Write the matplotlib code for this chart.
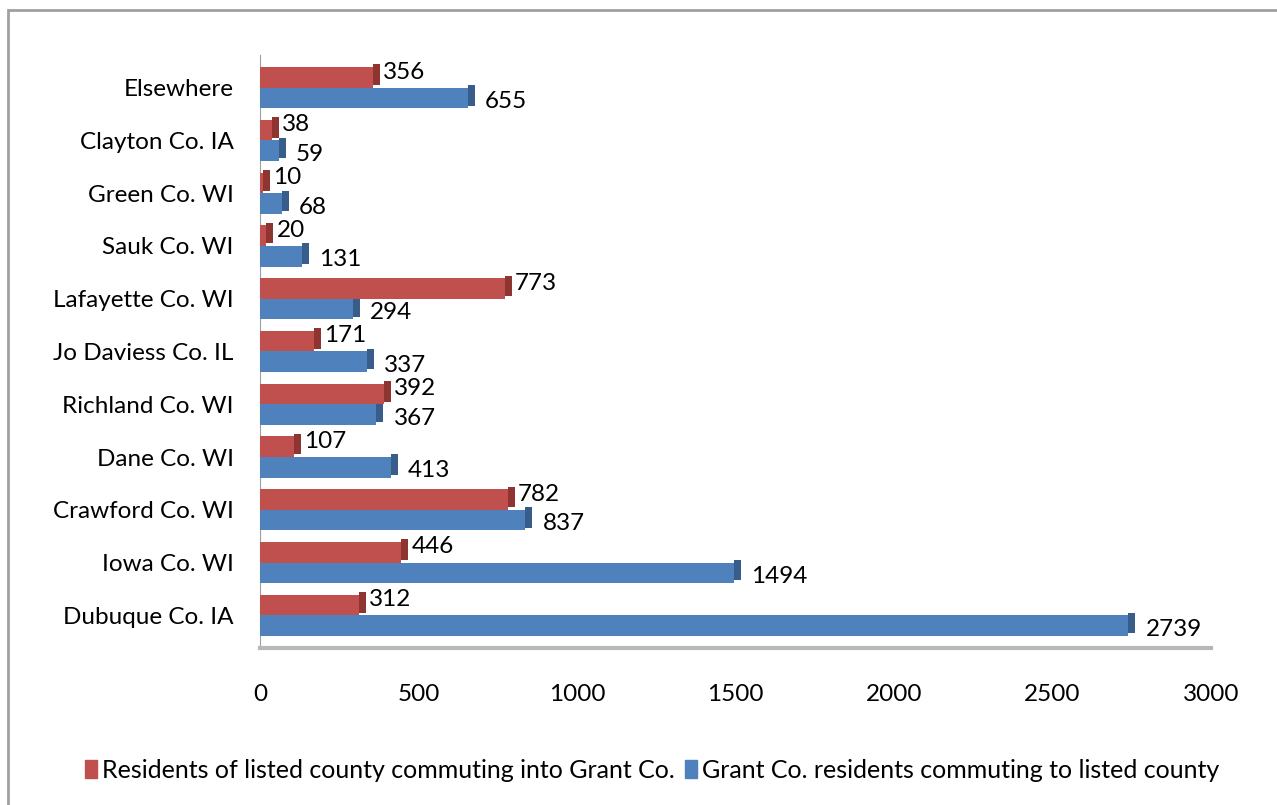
import matplotlib.pyplot as plt
from matplotlib.patches import Rectangle
import numpy as np

# Datos del grafico (de abajo hacia arriba)
counties = ['Dubuque Co. IA', 'Iowa Co. WI', 'Crawford Co. WI', 'Dane Co. WI',
            'Richland Co. WI', 'Jo Daviess Co. IL', 'Lafayette Co. WI',
            'Sauk Co. WI', 'Green Co. WI', 'Clayton Co. IA', 'Elsewhere']
into_grant = [312, 446, 782, 107, 392, 171, 773, 20, 10, 38, 356]
from_grant = [2739, 1494, 837, 413, 367, 337, 294, 131, 68, 59, 655]
x_ticks = [0, 500, 1000, 1500, 2000, 2500, 3000]

red = '#C0504D'
red_dark = '#8E3532'
blue = '#4F81BD'
blue_dark = '#385D8A'

plt.rcParams['font.family'] = ['Lato', 'DejaVu Sans']
fs = 17.5

fig = plt.figure(figsize=(12.77, 8.05), dpi=100)
ax = fig.add_axes([260 / 1277, 1 - 648 / 805, (1211 - 260) / 1277, (648 - 55) / 805])

# borde exterior
fig.patches.append(Rectangle((8 / 1277, -0.1), 1.2, 1 - 10 / 805 + 0.1, transform=fig.transFigure,
                             fill=False, edgecolor='#A0A0A0', linewidth=2))

y = np.arange(len(counties))
h = 0.39
cap = 22
ax.barh(y + h / 2, into_grant, height=h, color=red, zorder=3)
ax.barh(y - h / 2, from_grant, height=h, color=blue, zorder=3)
# cara lateral (efecto 3D)
ax.barh(y + h / 2 + 0.05, [cap] * len(y), left=into_grant, height=h, color=red_dark, zorder=2)
ax.barh(y - h / 2 + 0.05, [cap] * len(y), left=from_grant, height=h, color=blue_dark, zorder=2)

for yi, v in zip(y, into_grant):
    ax.text(v + cap + 10, yi + h / 2 + 0.1, str(v), fontsize=fs, va='center', ha='left', zorder=5)
for yi, v in zip(y, from_grant):
    ax.text(v + cap + 32, yi - h / 2 - 0.07, str(v), fontsize=fs, va='center', ha='left', zorder=5)

ax.set_xlim(0, 3000)
ax.set_ylim(-0.62, len(counties) - 0.38)
ax.set_yticks(y)
ax.set_yticklabels(counties, fontsize=fs)
ax.set_xticks(x_ticks)
ax.set_xticklabels([str(t) for t in x_ticks], fontsize=fs)
ax.tick_params(length=0, axis='y', pad=19)
ax.tick_params(length=0, axis='x', pad=26)
for s in ['top', 'right']:
    ax.spines[s].set_visible(False)
ax.spines['left'].set_color('#A0A0A0')
ax.spines['bottom'].set_color('#B8B8B8')
ax.spines['bottom'].set_linewidth(3)

handles = [Rectangle((0, 0), 1, 1, color=red), Rectangle((0, 0), 1, 1, color=blue)]
fig.legend(handles, ['Residents of listed county commuting into Grant Co.',
                     'Grant Co. residents commuting to listed county'],
           loc='center', bbox_to_anchor=(652 / 1277, 1 - 770 / 805), ncol=2, frameon=False,
           fontsize=18, handlelength=0.5, handleheight=0.75, handletextpad=0.2, columnspacing=0.4)

fig.savefig('out.png', dpi=100)
